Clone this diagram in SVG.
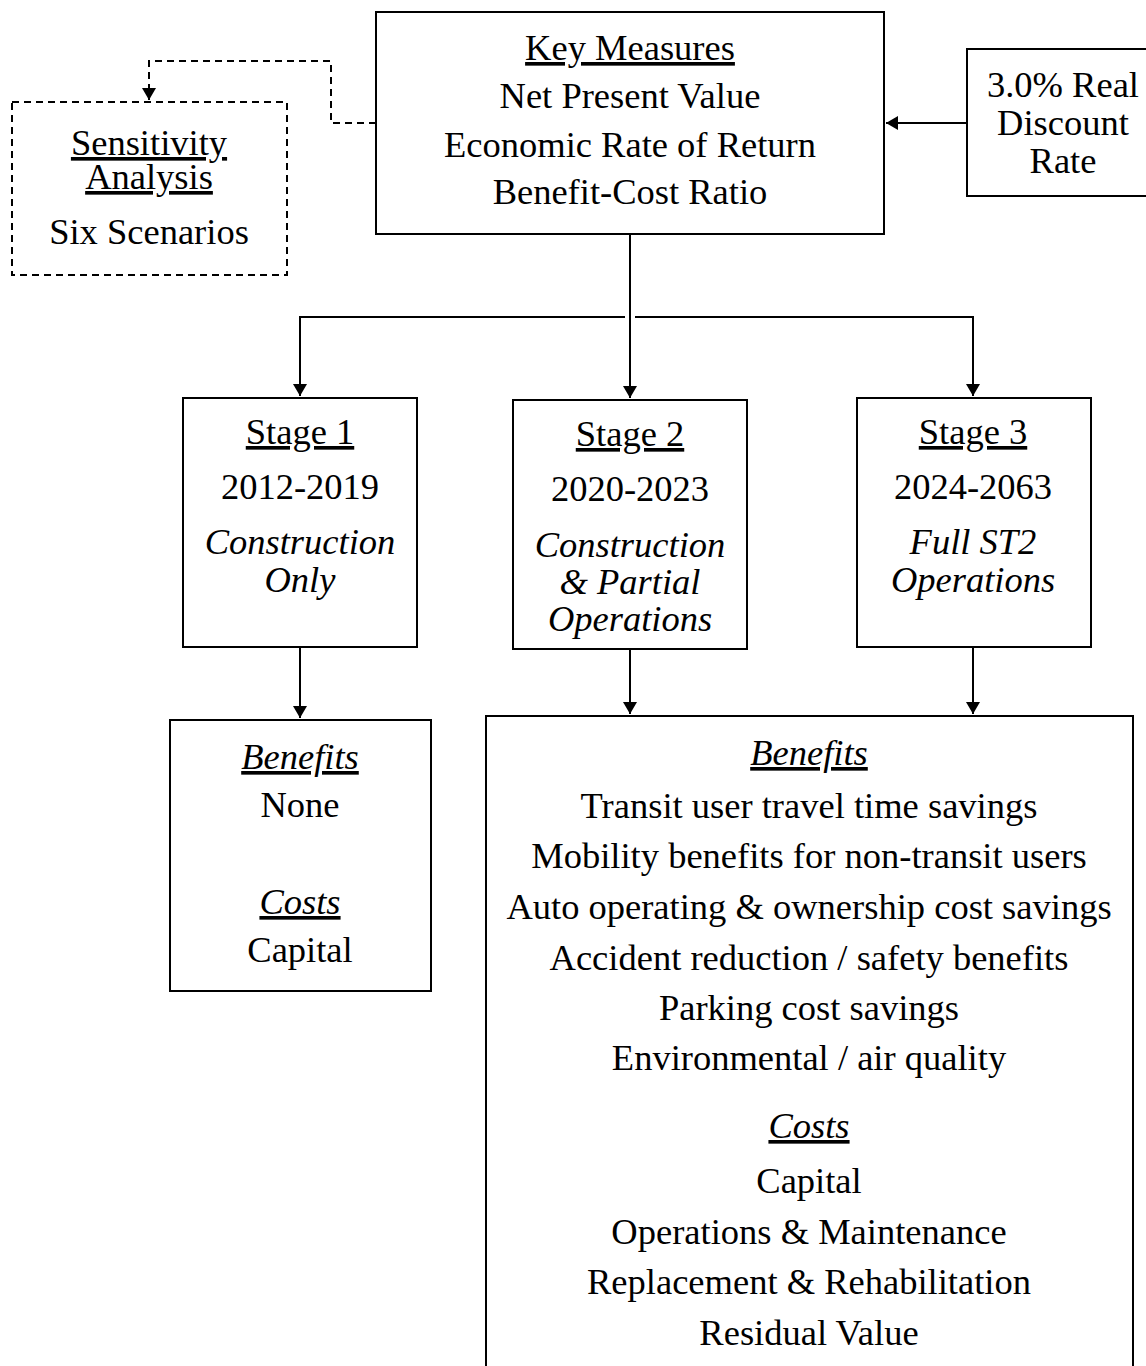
<svg xmlns="http://www.w3.org/2000/svg" width="1146" height="1366" viewBox="0 0 1146 1366">
<style>
text{font-family:"Liberation Serif","Times New Roman",serif;font-size:36.5px;fill:#000;text-anchor:middle}
.u{text-decoration:underline}
.i{font-style:italic}
.box{fill:#fff;stroke:#000;stroke-width:2}
.dbox{fill:#fff;stroke:#000;stroke-width:2;stroke-dasharray:7 5}
.ln{fill:none;stroke:#000;stroke-width:2}
.dl{fill:none;stroke:#000;stroke-width:2;stroke-dasharray:7 5}
</style>
<defs>
<marker id="ah" viewBox="0 0 12 14" refX="12" refY="7" markerWidth="12" markerHeight="14" markerUnits="userSpaceOnUse" orient="auto">
<path d="M0,0 L12,7 L0,14 Z" fill="#000"/>
</marker>
</defs>
<rect width="1146" height="1366" fill="#fff"/>
<g id="connectors">
<path class="dl" d="M376,123 H331 V61 H149 V100" marker-end="url(#ah)"/>
<path class="ln" d="M967,123 H886" marker-end="url(#ah)"/>
<path class="ln" d="M630,234 V398" marker-end="url(#ah)"/>
<path class="ln" d="M625,317 H300 V396" marker-end="url(#ah)"/>
<path class="ln" d="M635,317 H973 V396" marker-end="url(#ah)"/>
<path class="ln" d="M300,647 V718" marker-end="url(#ah)"/>
<path class="ln" d="M630,649 V714" marker-end="url(#ah)"/>
<path class="ln" d="M973,647 V714" marker-end="url(#ah)"/>
</g>
<g id="key">
<rect class="box" x="376" y="12" width="508" height="222"/>
<text x="630" y="60" class="u">Key Measures</text>
<text x="630" y="108">Net Present Value</text>
<text x="630" y="157">Economic Rate of Return</text>
<text x="630" y="204">Benefit-Cost Ratio</text>
</g>
<g id="sensitivity">
<rect class="dbox" x="12" y="102" width="275" height="173"/>
<text x="149" y="155" class="u">Sensitivity</text>
<text x="149" y="189" class="u">Analysis</text>
<text x="149" y="244">Six Scenarios</text>
</g>
<g id="discount">
<rect class="box" x="967" y="49" width="200" height="147"/>
<text x="1063" y="97">3.0% Real</text>
<text x="1063" y="135">Discount</text>
<text x="1063" y="173">Rate</text>
</g>
<g id="stage1">
<rect class="box" x="183" y="398" width="234" height="249"/>
<text x="300" y="444" class="u">Stage 1</text>
<text x="300" y="499">2012-2019</text>
<text x="300" y="554" class="i">Construction</text>
<text x="300" y="592" class="i">Only</text>
</g>
<g id="stage2">
<rect class="box" x="513" y="400" width="234" height="249"/>
<text x="630" y="446" class="u">Stage 2</text>
<text x="630" y="501">2020-2023</text>
<text x="630" y="557" class="i">Construction</text>
<text x="630" y="594" class="i">&amp; Partial</text>
<text x="630" y="631" class="i">Operations</text>
</g>
<g id="stage3">
<rect class="box" x="857" y="398" width="234" height="249"/>
<text x="973" y="444" class="u">Stage 3</text>
<text x="973" y="499">2024-2063</text>
<text x="973" y="554" class="i">Full ST2</text>
<text x="973" y="592" class="i">Operations</text>
</g>
<g id="results1">
<rect class="box" x="170" y="720" width="261" height="271"/>
<text x="300" y="769" class="i u">Benefits</text>
<text x="300" y="817">None</text>
<text x="300" y="914" class="i u">Costs</text>
<text x="300" y="962">Capital</text>
</g>
<g id="results23">
<rect class="box" x="486" y="716" width="647" height="680"/>
<text x="809" y="765" class="i u">Benefits</text>
<text x="809" y="818">Transit user travel time savings</text>
<text x="809" y="868">Mobility benefits for non-transit users</text>
<text x="809" y="919">Auto operating &amp; ownership cost savings</text>
<text x="809" y="970">Accident reduction / safety benefits</text>
<text x="809" y="1020">Parking cost savings</text>
<text x="809" y="1070">Environmental / air quality</text>
<text x="809" y="1138" class="i u">Costs</text>
<text x="809" y="1193">Capital</text>
<text x="809" y="1244">Operations &amp; Maintenance</text>
<text x="809" y="1294">Replacement &amp; Rehabilitation</text>
<text x="809" y="1345">Residual Value</text>
</g>
</svg>
